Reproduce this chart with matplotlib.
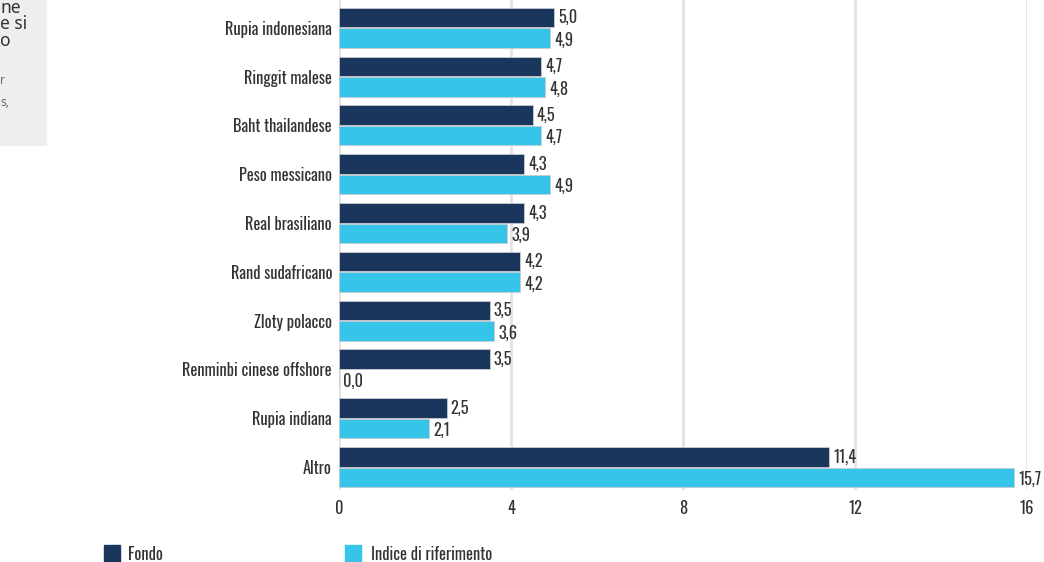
import matplotlib
matplotlib.use("Agg")
import matplotlib.pyplot as plt
from matplotlib.patches import Rectangle
from matplotlib import font_manager as fm
import numpy as np

categories = ["Rupia indonesiana", "Ringgit malese", "Baht thailandese", "Peso messicano",
              "Real brasiliano", "Rand sudafricano", "Zloty polacco",
              "Renminbi cinese offshore", "Rupia indiana", "Altro"]
fondo = [5.0, 4.7, 4.5, 4.3, 4.3, 4.2, 3.5, 3.5, 2.5, 11.4]
indice = [4.9, 4.8, 4.7, 4.9, 3.9, 4.2, 3.6, 0.0, 2.1, 15.7]
xticks = [0, 4, 8, 12, 16]
series_names = ["Fondo", "Indice di riferimento"]

names = {f.name for f in fm.fontManager.ttflist}
fam = "DejaVu Sans"
for cand in ["Oswald", "Pathway Gothic One", "Barlow Condensed", "Roboto Condensed",
             "Archivo Narrow", "Liberation Sans Narrow"]:
    if cand in names:
        fam = cand
        break
plt.rcParams["font.family"] = [fam, "DejaVu Sans"]
if fam != "Pathway Gothic One":
    plt.rcParams["font.weight"] = 200

dark = "#1b365d"
light = "#36c5e8"
txt = "#333333"

W, H = 1044, 562
fig = plt.figure(figsize=(W/100, H/100), dpi=100)

# choose font size so the longest label is ~150 px wide, as in the reference
probe = fig.text(0, 0, "Renminbi cinese offshore", fontsize=12)
r = fig.canvas.get_renderer()
wpx = probe.get_window_extent(r).width
probe.remove()
fs = 12 * 150 / wpx
fs = min(fs, 17)

ax = fig.add_axes([339/W, (H-490)/H, (1027-339)/W, 490/H])

y = np.arange(len(categories))
h = 0.40
ax.barh(y - 0.21, fondo, height=h, color=dark, edgecolor="#c8ccd2", linewidth=0.6, zorder=3)
ax.barh(y + 0.21, indice, height=h, color=light, edgecolor="#c8ccd2", linewidth=0.6, zorder=3)

def fmt(v):
    return f"{v:.1f}".replace(".", ",")

for i in range(len(categories)):
    ax.text(fondo[i] + 0.1, y[i] - 0.21, fmt(fondo[i]), va="center", ha="left",
            fontsize=fs, color=txt)
    ax.text(indice[i] + 0.1, y[i] + 0.25, fmt(indice[i]), va="center", ha="left",
            fontsize=fs, color=txt)

ax.set_xlim(0, 16)
ax.set_ylim(9.47, -0.57)
ax.set_yticks(y)
ax.set_yticklabels(categories, fontsize=fs, color=txt)
ax.set_xticks(xticks)
ax.set_xticklabels([str(t) for t in xticks], fontsize=fs, color=txt)
ax.tick_params(axis="both", length=0)
ax.tick_params(axis="y", pad=5)
ax.tick_params(axis="x", pad=7)
ax.grid(axis="x", color="#e3e3e3", linewidth=2, zorder=0)
for s in ax.spines.values():
    s.set_visible(False)

# legend
fig.patches.append(Rectangle((104/W, (H-562)/H), 16/W, 17/H, transform=fig.transFigure,
                             color=dark, clip_on=False))
fig.text(128/W, (H-554)/H, series_names[0], fontsize=fs, color=txt, va="center")
fig.patches.append(Rectangle((345/W, (H-562)/H), 16/W, 17/H, transform=fig.transFigure,
                             color=light, clip_on=False))
fig.text(371/W, (H-554)/H, series_names[1], fontsize=fs, color=txt, va="center")

# side panel fragment
fig.patches.append(Rectangle((0, (H-145)/H), 46/W, 145/H, transform=fig.transFigure,
                             color="#efeeec", zorder=0))
side = dict(color="#333333", ha="left", va="center", family="Noto Sans", weight="medium")
fig.text(0, (H-8)/H, "ne", fontsize=12.5, **side)
fig.text(0, (H-24)/H, "e si", fontsize=12.5, **side)
fig.text(0, (H-41)/H, "o", fontsize=12.5, **side)
side2 = dict(color="#666666", ha="left", va="center", family="Noto Sans")
fig.text(0, (H-80)/H, "r", fontsize=8.5, **side2)
fig.text(0, (H-103)/H, "s,", fontsize=8.5, **side2)

fig.savefig("out.png", dpi=100)
